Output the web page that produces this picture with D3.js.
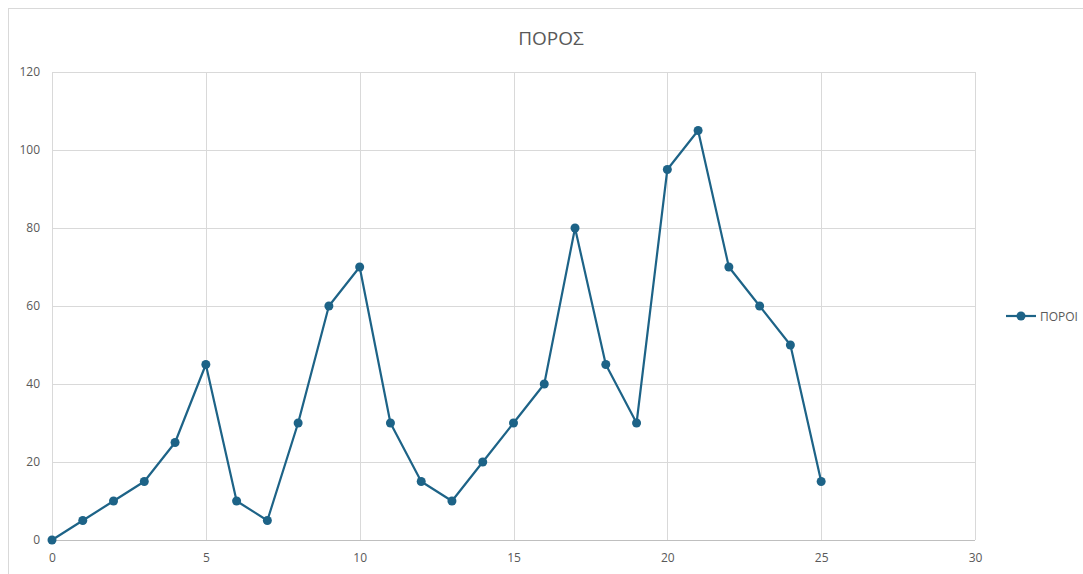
<!DOCTYPE html>
<html>
<head>
<meta charset="utf-8">
<script src="https://cdn.jsdelivr.net/npm/d3@7"></script>
<style>
  body { margin: 0; background: #fff; }
  svg text { font-family: "Open Sans", "Liberation Sans", sans-serif; fill: #595959; }
</style>
</head>
<body>
<svg id="chart" width="1083" height="574"></svg>
<script>
// Series: ΠΟΡΟΙ per step 0..25
const xValues = d3.range(0, 26);
const poroiValues = [0, 5, 10, 15, 25, 45, 10, 5, 30, 60, 70, 30, 15, 10, 20, 30, 40, 80, 45, 30, 95, 105, 70, 60, 50, 15];
const xTicks = [0, 5, 10, 15, 20, 25, 30];
const yTicks = [0, 20, 40, 60, 80, 100, 120];
const chartTitle = "ΠΟΡΟΣ";
const seriesName = "ΠΟΡΟΙ";

const lineColor = "#1d6387";
const gridColor = "#d9d9d9";

const svg = d3.select("#chart");
const plot = { left: 52, top: 72, right: 975, bottom: 540 };

// Chart area frame
svg.append("rect")
  .attr("x", 8.5).attr("y", 8.5)
  .attr("width", 1100).attr("height", 600)
  .attr("fill", "#fff").attr("stroke", "#d9d9d9").attr("stroke-width", 1);

const x = d3.scaleLinear().domain([0, 30]).range([plot.left, plot.right]);
const y = d3.scaleLinear().domain([0, 120]).range([plot.bottom, plot.top]);

// Gridlines
svg.append("g").selectAll("line.h").data(yTicks.filter(d => d > 0)).join("line")
  .attr("x1", plot.left).attr("x2", plot.right)
  .attr("y1", d => Math.round(y(d)) + 0.5).attr("y2", d => Math.round(y(d)) + 0.5)
  .attr("stroke", gridColor).attr("stroke-width", 1);
svg.append("g").selectAll("line.v").data(xTicks).join("line")
  .attr("x1", d => Math.round(x(d)) + 0.5).attr("x2", d => Math.round(x(d)) + 0.5)
  .attr("y1", plot.top).attr("y2", plot.bottom)
  .attr("stroke", gridColor).attr("stroke-width", 1);

// Horizontal axis line
svg.append("line")
  .attr("x1", plot.left).attr("x2", plot.right)
  .attr("y1", Math.round(y(0)) + 0.5).attr("y2", Math.round(y(0)) + 0.5)
  .attr("stroke", "#bfbfbf").attr("stroke-width", 1);

// Axes labels
const xAxis = d3.axisBottom(x).tickValues(xTicks).tickSize(0).tickPadding(13);
const yAxis = d3.axisLeft(y).tickValues(yTicks).tickSize(0).tickPadding(12);
const gx = svg.append("g").attr("transform", `translate(0,${plot.bottom})`).call(xAxis);
const gy = svg.append("g").attr("transform", `translate(${plot.left},0)`).call(yAxis);
[gx, gy].forEach(g => {
  g.select(".domain").remove();
  g.selectAll("text").attr("font-size", 12).attr("fill", "#595959")
    .style("font-family", "\"Open Sans\", \"Liberation Sans\", sans-serif");
});

// Title
svg.append("text")
  .attr("x", 551).attr("y", 45)
  .attr("text-anchor", "middle")
  .attr("font-size", 19)
  .text(chartTitle);

// Series line and markers
const data = xValues.map((d, i) => ({ x: d, y: poroiValues[i] }));
svg.append("path")
  .datum(data)
  .attr("fill", "none")
  .attr("stroke", lineColor)
  .attr("stroke-width", 2.2)
  .attr("stroke-linejoin", "round")
  .attr("d", d3.line().x(d => x(d.x)).y(d => y(d.y)));

svg.append("g").selectAll("circle").data(data).join("circle")
  .attr("cx", d => x(d.x)).attr("cy", d => y(d.y))
  .attr("r", 4.5)
  .attr("fill", lineColor);

// Legend
const lg = svg.append("g").attr("transform", "translate(1006,316)");
lg.append("line").attr("x1", 0).attr("x2", 30).attr("y1", 0).attr("y2", 0)
  .attr("stroke", lineColor).attr("stroke-width", 2.2);
lg.append("circle").attr("cx", 15).attr("cy", 0).attr("r", 4.5).attr("fill", lineColor);
lg.append("text").attr("x", 34).attr("y", 4.5).attr("font-size", 12).text(seriesName);
</script>
</body>
</html>
